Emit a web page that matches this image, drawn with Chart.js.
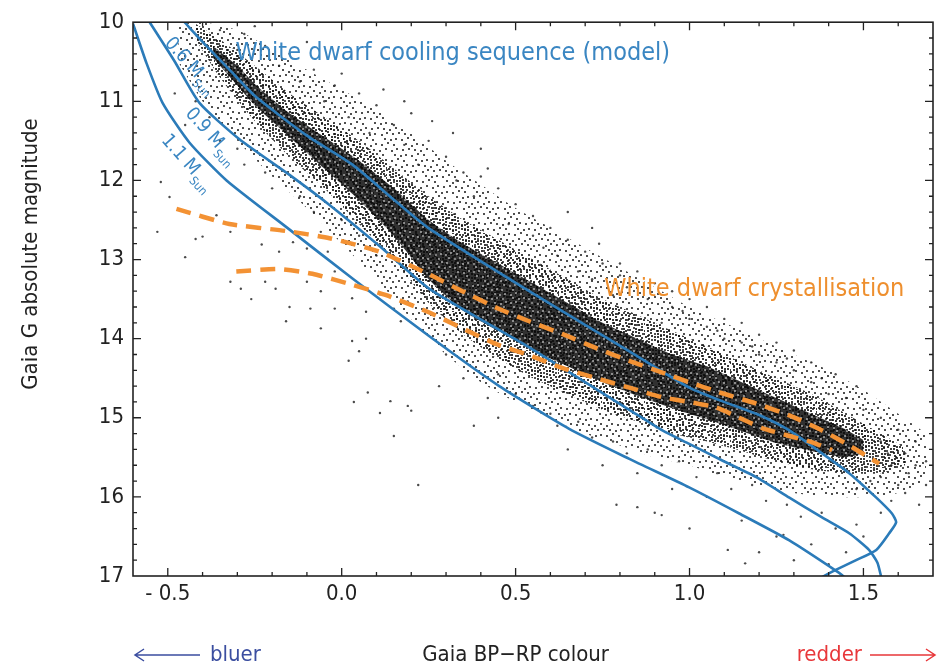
<!DOCTYPE html>
<html>
<head>
<meta charset="utf-8">
<title>Gaia white dwarf sequence</title>
<script src="https://cdn.jsdelivr.net/npm/chart.js@4.4.1/dist/chart.umd.min.js"></script>
<style>
  html, body { margin: 0; padding: 0; background: #fff; }
  #wrap { width: 946px; height: 669px; }
</style>
</head>
<body>
<div id="wrap"><canvas id="hrd" width="946" height="669"></canvas></div>
<script>
// Axis ticks
const xTicks = [-0.5, 0.0, 0.5, 1.0, 1.5];
const yTicks = [10, 11, 12, 13, 14, 15, 16, 17];

// Model cooling tracks, [BP-RP, G]
const track06 = [[-0.452,10.0],[-0.389,10.30],[-0.323,10.60],[-0.245,10.95],[-0.101,11.43],[0.031,11.80],[0.157,12.27],[0.252,12.61],[0.539,13.40],[0.827,14.16],[0.999,14.62],[1.094,14.79],[1.192,14.95],[1.287,15.16],[1.381,15.45],[1.459,15.70],[1.537,16.01],[1.582,16.21],[1.594,16.32],[1.574,16.46],[1.537,16.67],[1.479,16.80],[1.422,16.92],[1.378,17.02]];
const track09 = [[-0.552,10.0],[-0.481,10.49],[-0.409,11.02],[-0.294,11.48],[-0.150,11.93],[-0.035,12.31],[0.117,12.86],[0.252,13.37],[0.539,14.11],[0.827,14.90],[0.922,15.16],[0.999,15.33],[1.094,15.54],[1.192,15.75],[1.287,16.01],[1.381,16.26],[1.459,16.46],[1.516,16.67],[1.540,16.83],[1.551,17.01]];
const track11 = [[-0.600,10.02],[-0.561,10.52],[-0.515,11.02],[-0.438,11.52],[-0.331,12.0],[-0.159,12.59],[0.031,13.24],[0.252,13.97],[0.453,14.60],[0.654,15.14],[0.827,15.52],[0.999,15.88],[1.143,16.21],[1.287,16.55],[1.430,16.96],[1.447,17.02]];

// Crystallisation onset (dashed)
const crystUpper = [[-0.475,12.36],[-0.323,12.55],[-0.159,12.64],[-0.035,12.73],[0.108,12.90],[0.252,13.19],[0.347,13.40],[0.445,13.61],[0.539,13.78],[0.634,13.94],[0.732,14.12],[0.827,14.28],[0.922,14.43],[0.999,14.55],[1.094,14.69],[1.192,14.82],[1.287,14.97],[1.381,15.16],[1.459,15.35],[1.545,15.58]];
const crystLower = [[-0.303,13.15],[-0.179,13.12],[-0.084,13.18],[0.031,13.32],[0.128,13.45],[0.252,13.67],[0.347,13.87],[0.445,14.07],[0.539,14.21],[0.634,14.37],[0.732,14.50],[0.827,14.62],[0.922,14.74],[0.999,14.80],[1.076,14.87],[1.143,15.00],[1.209,15.13],[1.287,15.23],[1.353,15.31],[1.410,15.41]];

// Densest part of the observed sequence (edges in G per colour)
const coreX      = [-0.37,-0.30,-0.25,-0.15,-0.05,0.05,0.15,0.25,0.35,0.45,0.55,0.65,0.75,0.85,0.95,1.05,1.15,1.25,1.35,1.45,1.50];
const coreTop    = [10.3,10.55,10.78,11.15,11.45,11.75,12.1,12.5,12.8,13.05,13.3,13.55,13.8,14.0,14.2,14.35,14.55,14.75,14.95,15.15,15.28];
const coreBottom = [10.45,10.8,11.05,11.45,11.85,12.25,12.7,13.25,13.65,13.9,14.15,14.35,14.55,14.72,14.88,15.02,15.17,15.32,15.42,15.5,15.45];

// Moderately populated envelope around it
const midX      = [-0.42,-0.35,-0.25,-0.15,-0.05,0.05,0.15,0.25,0.35,0.45,0.55,0.65,0.75,0.85,0.95,1.05,1.15,1.25,1.35,1.45,1.55,1.62];
const midTop    = [10.02,10.22,10.55,10.9,11.2,11.5,11.85,12.2,12.5,12.75,13.0,13.25,13.5,13.7,13.9,14.1,14.3,14.5,14.7,14.95,15.2,15.38];
const midBottom = [10.22,10.7,11.25,11.7,12.1,12.55,13.0,13.55,13.95,14.25,14.5,14.7,14.9,15.05,15.2,15.3,15.42,15.55,15.65,15.7,15.7,15.6];

// Thin outer halo of the sequence
const haloX      = [-0.47,-0.40,-0.30,-0.20,-0.10,0.00,0.10,0.20,0.30,0.40,0.50,0.60,0.70,0.80,0.90,1.00,1.10,1.20,1.30,1.40,1.50,1.60,1.68];
const haloTop    = [10.0,10.0,10.1,10.35,10.6,10.85,11.1,11.4,11.75,12.05,12.35,12.6,12.85,13.1,13.35,13.6,13.8,14.0,14.2,14.4,14.65,14.95,15.2];
const haloBottom = [10.5,11.0,11.5,11.95,12.35,12.8,13.25,13.75,14.2,14.55,14.8,15.0,15.2,15.35,15.5,15.6,15.75,15.85,15.95,16.0,16.0,15.95,15.8];

// Scattered stars outside the main sequence
const outliers = [
  [-0.35,10.10],[-0.28,10.15],[-0.25,10.05],[-0.22,10.30],[-0.30,10.35],[-0.15,10.40],[-0.10,10.25],[-0.18,10.55],
  [-0.08,10.60],[-0.12,10.75],[0.00,10.65],[-0.02,10.80],[0.05,10.90],[-0.05,11.00],[0.10,11.05],[0.12,10.85],
  [0.18,11.00],[0.02,11.20],[0.15,11.30],[0.20,11.15],[0.08,11.40],[0.26,11.25],[0.18,11.55],[0.25,11.50],
  [0.32,11.40],[0.30,11.70],[0.22,11.80],[0.40,11.60],[0.35,11.90],[0.42,11.85],[0.33,12.00],[0.40,11.95],
  [0.45,12.10],[0.38,12.20],[0.50,12.30],[0.55,12.45],[0.48,12.55],[0.60,12.60],[0.65,12.40],[0.72,12.60],
  [0.55,12.70],[0.65,12.75],[0.62,12.95],[0.58,12.85],[0.74,12.80],[0.70,12.90],[0.80,13.05],[0.75,13.05],
  [0.68,13.15],[0.85,13.15],[0.80,13.20],[0.72,13.25],[0.90,13.30],[0.82,13.35],[0.95,13.40],[0.78,13.45],
  [0.88,13.50],[1.00,13.50],[0.95,13.60],[1.05,13.60],[0.98,13.65],[1.00,13.75],[1.10,13.75],[0.92,13.80],
  [1.15,13.80],[1.05,13.85],[1.08,13.90],[1.20,13.95],[1.10,14.00],[1.15,14.05],[1.25,14.05],[1.18,14.10],
  [1.30,14.15],[1.20,14.20],[1.28,14.25],[1.35,14.30],[1.25,14.30],[1.30,14.40],[1.42,14.45],[1.38,14.50],
  [1.35,14.55],[1.48,14.60],[1.40,14.70],[1.45,14.75],[1.50,14.90],[1.55,15.00],[1.60,15.15],[1.55,15.30],
  [1.65,15.30],[1.57,15.45],[1.62,15.45],[1.68,15.55],[1.65,15.60],[1.58,15.60],[1.63,15.70],[1.55,15.75],
  [1.52,15.80],[1.68,15.85],[1.60,15.85],[1.48,15.90],[1.62,15.95],[1.58,16.05],[1.66,16.10],
  [-0.48,10.90],[-0.42,11.00],[-0.45,11.30],[-0.38,11.20],[-0.35,11.50],[-0.30,11.60],[-0.28,11.80],[-0.22,11.90],
  [-0.20,12.10],[-0.12,12.20],[-0.08,12.40],[0.00,12.50],[0.05,12.70],[0.10,12.95],
  [-0.52,12.02],[-0.495,12.21],[-0.53,12.65],[-0.45,12.97],[-0.42,12.74],[-0.40,12.71],[-0.36,12.44],[-0.32,12.65],
  [-0.32,13.28],[-0.29,13.37],[-0.26,13.50],[-0.22,13.28],[-0.23,12.81],[-0.18,12.90],[-0.14,12.78],[-0.10,12.86],
  [-0.06,12.65],[-0.04,12.90],[-0.02,13.15],[-0.06,13.40],[-0.10,13.28],[-0.19,13.37],[-0.15,13.60],[-0.09,13.62],
  [-0.16,13.78],[-0.06,13.87],[-0.02,13.62],[0.03,13.49],[0.07,13.66],[0.11,13.44],[0.15,13.62],[0.19,13.53],
  [0.17,13.78],[0.03,14.03],[0.05,14.16],[0.02,14.28],[0.07,14.00],
  [0.035,14.80],[0.075,14.68],[0.14,14.79],[0.11,14.94],[0.15,15.23],[0.19,14.85],[0.20,14.91],[0.22,15.85],
  [0.30,14.20],[0.35,14.50],[0.42,14.75],[0.28,14.60],[0.45,15.00],[0.38,15.10],
  [0.45,14.45],[0.50,14.70],[0.55,14.85],[0.60,14.95],[0.62,15.10],[0.68,15.05],[0.72,15.25],[0.78,15.30],
  [0.82,15.45],[0.88,15.40],[0.92,15.60],[0.97,15.55],[1.02,15.75],[1.08,15.70],[1.12,15.90],[1.18,15.85],
  [1.22,16.05],[1.28,16.10],[1.32,16.25],[1.38,16.20],[1.42,16.40],[1.48,16.35],[0.85,15.70],[0.95,15.90],
  [1.05,16.00],[1.15,16.30],[1.25,16.50],[1.35,16.60],[1.45,16.70],[0.75,15.60],[0.65,15.40],[1.50,16.50],
  [1.55,16.20],[1.30,16.80],[1.40,16.85],[1.20,16.70],[1.00,16.40],[0.90,16.20],[0.79,16.10],[0.85,16.13],
  [0.92,16.23],[1.11,16.67],[1.16,16.84],[1.27,16.48]
];

const FONT = "'DejaVu Sans Condensed', 'Liberation Sans Narrow', 'DejaVu Sans', sans-serif";
const BLUE = '#2b7bb9';
const BLUE_TEXT = '#3a86c2';
const ORANGE = '#f39234';
const INK = '#222';

const pts = arr => arr.map(([x, y]) => ({x, y}));
const zip = (xs, ys) => xs.map((x, i) => ({x, y: ys[i]}));

const canvas = document.getElementById('hrd');
const ctx2d = canvas.getContext('2d');

// grainy fill textures: dots laid out on an R2 low-discrepancy grid
function speckle(w, h, n, bg, dotColor, size) {
    const c = document.createElement('canvas');
    c.width = w; c.height = h;
    const g = c.getContext('2d');
    if (bg) { g.fillStyle = bg; g.fillRect(0, 0, w, h); }
    g.fillStyle = dotColor;
    for (let k = 0; k < n; k++) {
        const u = Math.floor(((0.5 + 0.7548776662 * k) % 1) * w);
        const v = Math.floor(((0.5 + 0.5698402910 * k) % 1) * h);
        g.fillRect(u, v, size, size);
    }
    return ctx2d.createPattern(c, 'repeat');
}
const haloFill = speckle(41, 37, 45, null, 'rgba(20,20,20,0.75)', 2);
const midFill = speckle(43, 39, 130, null, 'rgba(10,10,10,0.8)', 2);
const coreFill = speckle(37, 31, 40, 'rgba(10,10,10,0.84)', 'rgba(235,235,235,0.5)', 2);

const frameTicks = {
    id: 'frameTicks',
    afterDraw(chart) {
        const {ctx, chartArea: a, scales: {x, y}} = chart;
        ctx.save();
        ctx.strokeStyle = INK;
        ctx.lineWidth = 1.6;
        ctx.strokeRect(a.left, a.top, a.right - a.left, a.bottom - a.top);
        ctx.lineWidth = 1.3;
        ctx.beginPath();
        for (let i = -5; i <= 16; i++) {
            const px = x.getPixelForValue(i / 10);
            const len = i % 5 === 0 ? 8 : 4;
            ctx.moveTo(px, a.bottom); ctx.lineTo(px, a.bottom - len);
            ctx.moveTo(px, a.top); ctx.lineTo(px, a.top + len);
        }
        for (let i = 51; i < 85; i++) {
            const py = y.getPixelForValue(i / 5);
            const len = i % 5 === 0 ? 8 : 4;
            ctx.moveTo(a.left, py); ctx.lineTo(a.left + len, py);
            ctx.moveTo(a.right, py); ctx.lineTo(a.right - len, py);
        }
        ctx.stroke();

        // axis titles and colour hints
        ctx.fillStyle = INK;
        ctx.font = '22px ' + FONT;
        ctx.textAlign = 'center';
        ctx.textBaseline = 'middle';
        ctx.save();
        ctx.translate(31, 254);
        ctx.rotate(-Math.PI / 2);
        ctx.fillText('Gaia G absolute magnitude', 0, 0);
        ctx.restore();
        ctx.fillText('Gaia BP\u2212RP colour', x.getPixelForValue(0.5), 655);

        ctx.textAlign = 'left';
        ctx.fillStyle = '#3b4ea0';
        ctx.fillText('bluer', 210, 655);
        arrow(ctx, 200, 135, 655, '#3b4ea0');
        ctx.textAlign = 'right';
        ctx.fillStyle = '#e8373a';
        ctx.fillText('redder', 862, 655);
        arrow(ctx, 870, 935, 655, '#e8373a');
        ctx.restore();
    }
};

function arrow(ctx, from, to, yy, color) {
    const d = Math.sign(to - from);
    ctx.save();
    ctx.strokeStyle = color;
    ctx.lineWidth = 1.5;
    ctx.beginPath();
    ctx.moveTo(from, yy); ctx.lineTo(to, yy);
    ctx.moveTo(to - d * 9, yy - 6); ctx.lineTo(to, yy); ctx.lineTo(to - d * 9, yy + 6);
    ctx.stroke();
    ctx.restore();
}

// where the annotations sit, in data units
const notes = {
    cooling: {x: -0.305, y: 10.48},
    cryst: {x: 0.755, y: 13.467},
    masses: [
        {label: '0.6 M', x: -0.455, y: 10.45},
        {label: '0.9 M', x: -0.395, y: 11.34},
        {label: '1.1 M', x: -0.464, y: 11.68}
    ]
};

const textLayer = {
    id: 'textLayer',
    afterDatasetsDraw(chart) {
        const {ctx, scales: {x, y}} = chart;
        ctx.save();
        ctx.textBaseline = 'alphabetic';
        ctx.textAlign = 'left';
        ctx.font = '25px ' + FONT;
        ctx.fillStyle = BLUE_TEXT;
        ctx.fillText('White dwarf cooling sequence (model)', x.getPixelForValue(notes.cooling.x), y.getPixelForValue(notes.cooling.y));
        ctx.fillStyle = '#ee8f2e';
        ctx.fillText('White dwarf crystallisation', x.getPixelForValue(notes.cryst.x), y.getPixelForValue(notes.cryst.y));

        ctx.fillStyle = BLUE_TEXT;
        notes.masses.forEach(m => {
            ctx.save();
            ctx.translate(x.getPixelForValue(m.x), y.getPixelForValue(m.y));
            ctx.rotate(0.84);
            ctx.font = '19px ' + FONT;
            const w = ctx.measureText(m.label).width;
            ctx.textBaseline = 'middle';
            ctx.textAlign = 'left';
            ctx.fillText(m.label, -w / 2, 0);
            ctx.font = '12px ' + FONT;
            ctx.fillText('Sun', w / 2 + 1, 8);
            ctx.restore();
        });
        ctx.restore();
    }
};

const lineStyle = {showLine: true, pointRadius: 0, fill: false, tension: 0.2};
const edge = {...lineStyle, borderWidth: 0, borderColor: 'transparent'};

new Chart(canvas, {
    type: 'scatter',
    data: {
        datasets: [
            {label: 'halo top', data: zip(haloX, haloTop), ...edge, fill: '+1', backgroundColor: haloFill, order: 11},
            {label: 'halo bottom', data: zip(haloX, haloBottom), ...edge, order: 11},
            {label: 'mid top', data: zip(midX, midTop), ...edge, fill: '+1', backgroundColor: midFill, order: 10},
            {label: 'mid bottom', data: zip(midX, midBottom), ...edge, order: 10},
            {label: 'core top', data: zip(coreX, coreTop), ...edge, fill: '+1', backgroundColor: coreFill, order: 9},
            {label: 'core bottom', data: zip(coreX, coreBottom), ...edge, order: 9},
            {label: 'stars', data: pts(outliers), pointRadius: 1.2, pointBackgroundColor: 'rgba(30,30,30,0.8)', pointBorderWidth: 0, order: 8},
            {label: '0.6 Msun', data: pts(track06), ...lineStyle, borderColor: BLUE, borderWidth: 2.6, order: 5},
            {label: '0.9 Msun', data: pts(track09), ...lineStyle, borderColor: BLUE, borderWidth: 2.6, order: 5},
            {label: '1.1 Msun', data: pts(track11), ...lineStyle, borderColor: BLUE, borderWidth: 2.6, order: 5},
            {label: 'cryst upper', data: pts(crystUpper), ...lineStyle, borderColor: ORANGE, borderWidth: 4.5, borderDash: [15, 9], order: 4},
            {label: 'cryst lower', data: pts(crystLower), ...lineStyle, borderColor: ORANGE, borderWidth: 4.5, borderDash: [15, 9], order: 4}
        ]
    },
    options: {
        responsive: false,
        devicePixelRatio: 1,
        animation: false,
        layout: {padding: {top: 19, right: 13, left: 0, bottom: 0}},
        plugins: {legend: {display: false}, tooltip: {enabled: false}},
        scales: {
            x: {
                type: 'linear', min: -0.6, max: 1.7,
                grid: {display: false, drawTicks: false}, border: {display: false},
                afterBuildTicks: s => { s.ticks = xTicks.map(v => ({value: v})); },
                afterFit: s => { s.height = 93; },
                ticks: {
                    autoSkip: false, maxRotation: 0, padding: 5, color: INK,
                    font: {family: FONT, size: 22},
                    callback: v => v < 0 ? '- ' + Math.abs(v).toFixed(1) : v.toFixed(1)
                }
            },
            y: {
                type: 'linear', min: 10, max: 17, reverse: true,
                grid: {display: false, drawTicks: false}, border: {display: false},
                afterBuildTicks: s => { s.ticks = yTicks.map(v => ({value: v})); },
                afterFit: s => { s.width = 133; },
                ticks: {
                    autoSkip: false, padding: 9, color: INK,
                    font: {family: FONT, size: 22},
                    callback: v => String(v)
                }
            }
        }
    },
    plugins: [textLayer, frameTicks]
});
</script>
</body>
</html>
